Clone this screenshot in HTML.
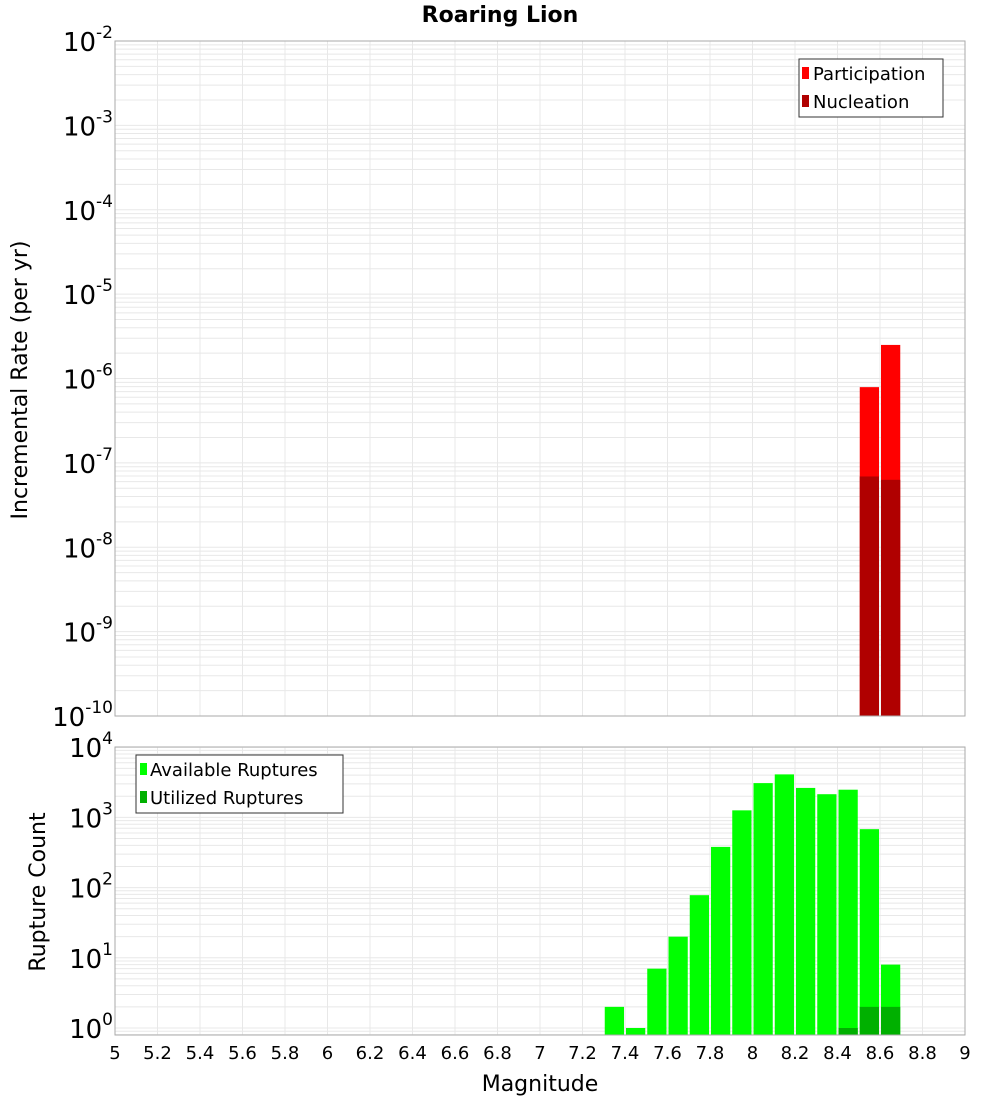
<!DOCTYPE html>
<html><head><meta charset="utf-8"><style>
body{margin:0;background:#fff;width:1000px;height:1100px;overflow:hidden}
svg{font-family:"DejaVu Sans","Liberation Sans",sans-serif}
</style></head><body>
<svg id="c" width="1000" height="1100"></svg>
<script>
const binCenters=[7.35,7.45,7.55,7.65,7.75,7.85,7.95,8.05,8.15,8.25,8.35,8.45,8.55,8.65];
const availableCounts=[2,1,7,20,78,380,1260,3080,4100,2630,2140,2480,680,8];
const utilizedCounts=[0,0,0,0,0,0,0,0,0,0,0,1,2,2];
const rateBins=[8.55,8.65];
const participationRates=[7.9e-7,2.5e-6];
const nucleationRates=[6.9e-8,6.3e-8];
const xTicks=[5,5.2,5.4,5.6,5.8,6,6.2,6.4,6.6,6.8,7,7.2,7.4,7.6,7.8,8,8.2,8.4,8.6,8.8,9];
const topExps=[-2,-3,-4,-5,-6,-7,-8,-9,-10];
const botExps=[4,3,2,1,0];

const NS="http://www.w3.org/2000/svg",svg=document.getElementById('c');
function el(t,a,p){const e=document.createElementNS(NS,t);for(const k in a)e.setAttribute(k,a[k]);(p||svg).appendChild(e);return e;}
const X0=115,X1=965;
const xs=m=>X0+(m-5)/4*(X1-X0);
const T0=41,T1=716;
const yTop=v=>T1-(Math.log10(v)+10)*(T1-T0)/8;
const B0=747,B1=1035,BPD=70.2;
const yBot=v=>1028-Math.log10(v)*BPD;

function grid(y0,y1,exps,yf,lo,hi){
  const g=el('g',{});
  
  
  xTicks.forEach(t=>el('line',{x1:xs(t),x2:xs(t),y1:y0,y2:y1,stroke:'#e8e8e8'},g));
  for(let e=lo;e<=hi;e++)for(let k=1;k<10;k++){const y=yf(k*Math.pow(10,e));if(y>=y0&&y<=y1)el('line',{x1:X0,x2:X1,y1:y,y2:y,stroke:'#e8e8e8'},g);}
}
grid(T0,T1,topExps,yTop,-10,-3);
grid(B0,B1,botExps,yBot,-1,4);

// top bars
participationRates.forEach((v,i)=>{
  const r=el('rect',{x:xs(rateBins[i]-0.05)+1,y:yTop(v),width:xs(0.1+5)-X0-2,height:T1-yTop(v),fill:'#ff0000'});
  
  
});
nucleationRates.forEach((v,i)=>{
  const r=el('rect',{x:xs(rateBins[i]-0.05)+1,y:yTop(v),width:xs(0.1+5)-X0-2,height:T1-yTop(v),fill:'#b00000'});
  
  
});
availableCounts.forEach((v,i)=>{
  const r=el('rect',{x:xs(binCenters[i]-0.05)+1,y:yBot(v),width:xs(5.1)-X0-2,height:B1-yBot(v),fill:'#00ff00'});
  
  
});
utilizedCounts.forEach((v,i)=>{
  if(v<=0)return;
  const r=el('rect',{x:xs(binCenters[i]-0.05)+1,y:yBot(v),width:xs(5.1)-X0-2,height:B1-yBot(v),fill:'#00b000'});
  
  
});

// frames
el('rect',{x:X0,y:T0,width:X1-X0,height:T1-T0,fill:'none',stroke:'#aaa'});
el('rect',{x:X0,y:B0,width:X1-X0,height:B1-B0,fill:'none',stroke:'#aaa'});

// y labels
function ylab(e,y){
  const t=el('text',{x:113,y:y+10,'text-anchor':'end','font-size':26,fill:'#000'});
  
  
  t.innerHTML='10<tspan dy="-13" font-size="17">'+e+'</tspan>';
}
topExps.forEach(e=>ylab(e,yTop(Math.pow(10,e))));
botExps.forEach(e=>ylab(e,yBot(Math.pow(10,e))));
xTicks.forEach(t=>{
  const x=el('text',{x:xs(t),y:1059,'text-anchor':'middle','font-size':18,fill:'#000'});
  
  
  x.textContent=String(t);
});
</script>
<svg width="1000" height="1100" style="position:absolute;left:0;top:0">
<text x="500" y="22" text-anchor="middle" font-size="22" font-weight="bold" font-family="DejaVu Sans,Liberation Sans,sans-serif">Roaring Lion</text>
<text transform="translate(27,380) rotate(-90)" text-anchor="middle" font-size="22" font-family="DejaVu Sans,Liberation Sans,sans-serif">Incremental Rate (per yr)</text>
<text transform="translate(45,892) rotate(-90)" text-anchor="middle" font-size="22" font-family="DejaVu Sans,Liberation Sans,sans-serif">Rupture Count</text>
<text x="540" y="1091" text-anchor="middle" font-size="22" font-family="DejaVu Sans,Liberation Sans,sans-serif">Magnitude</text>
<g font-family="DejaVu Sans,Liberation Sans,sans-serif" font-size="18">
<rect x="799" y="59" width="144" height="58" fill="#fff" stroke="#333"/>
<rect x="802" y="67" width="7" height="12" fill="#ff0000"/>
<text x="813" y="80">Participation</text>
<rect x="802" y="95" width="7" height="12" fill="#b00000"/>
<text x="813" y="108">Nucleation</text>
</g>
<g font-family="DejaVu Sans,Liberation Sans,sans-serif" font-size="18">
<rect x="136" y="755" width="207" height="58" fill="#fff" stroke="#333"/>
<rect x="140" y="763" width="7" height="12" fill="#00ff00"/>
<text x="150" y="776">Available Ruptures</text>
<rect x="140" y="791" width="7" height="12" fill="#00b000"/>
<text x="150" y="804">Utilized Ruptures</text>
</g>
</svg>
</body></html>
